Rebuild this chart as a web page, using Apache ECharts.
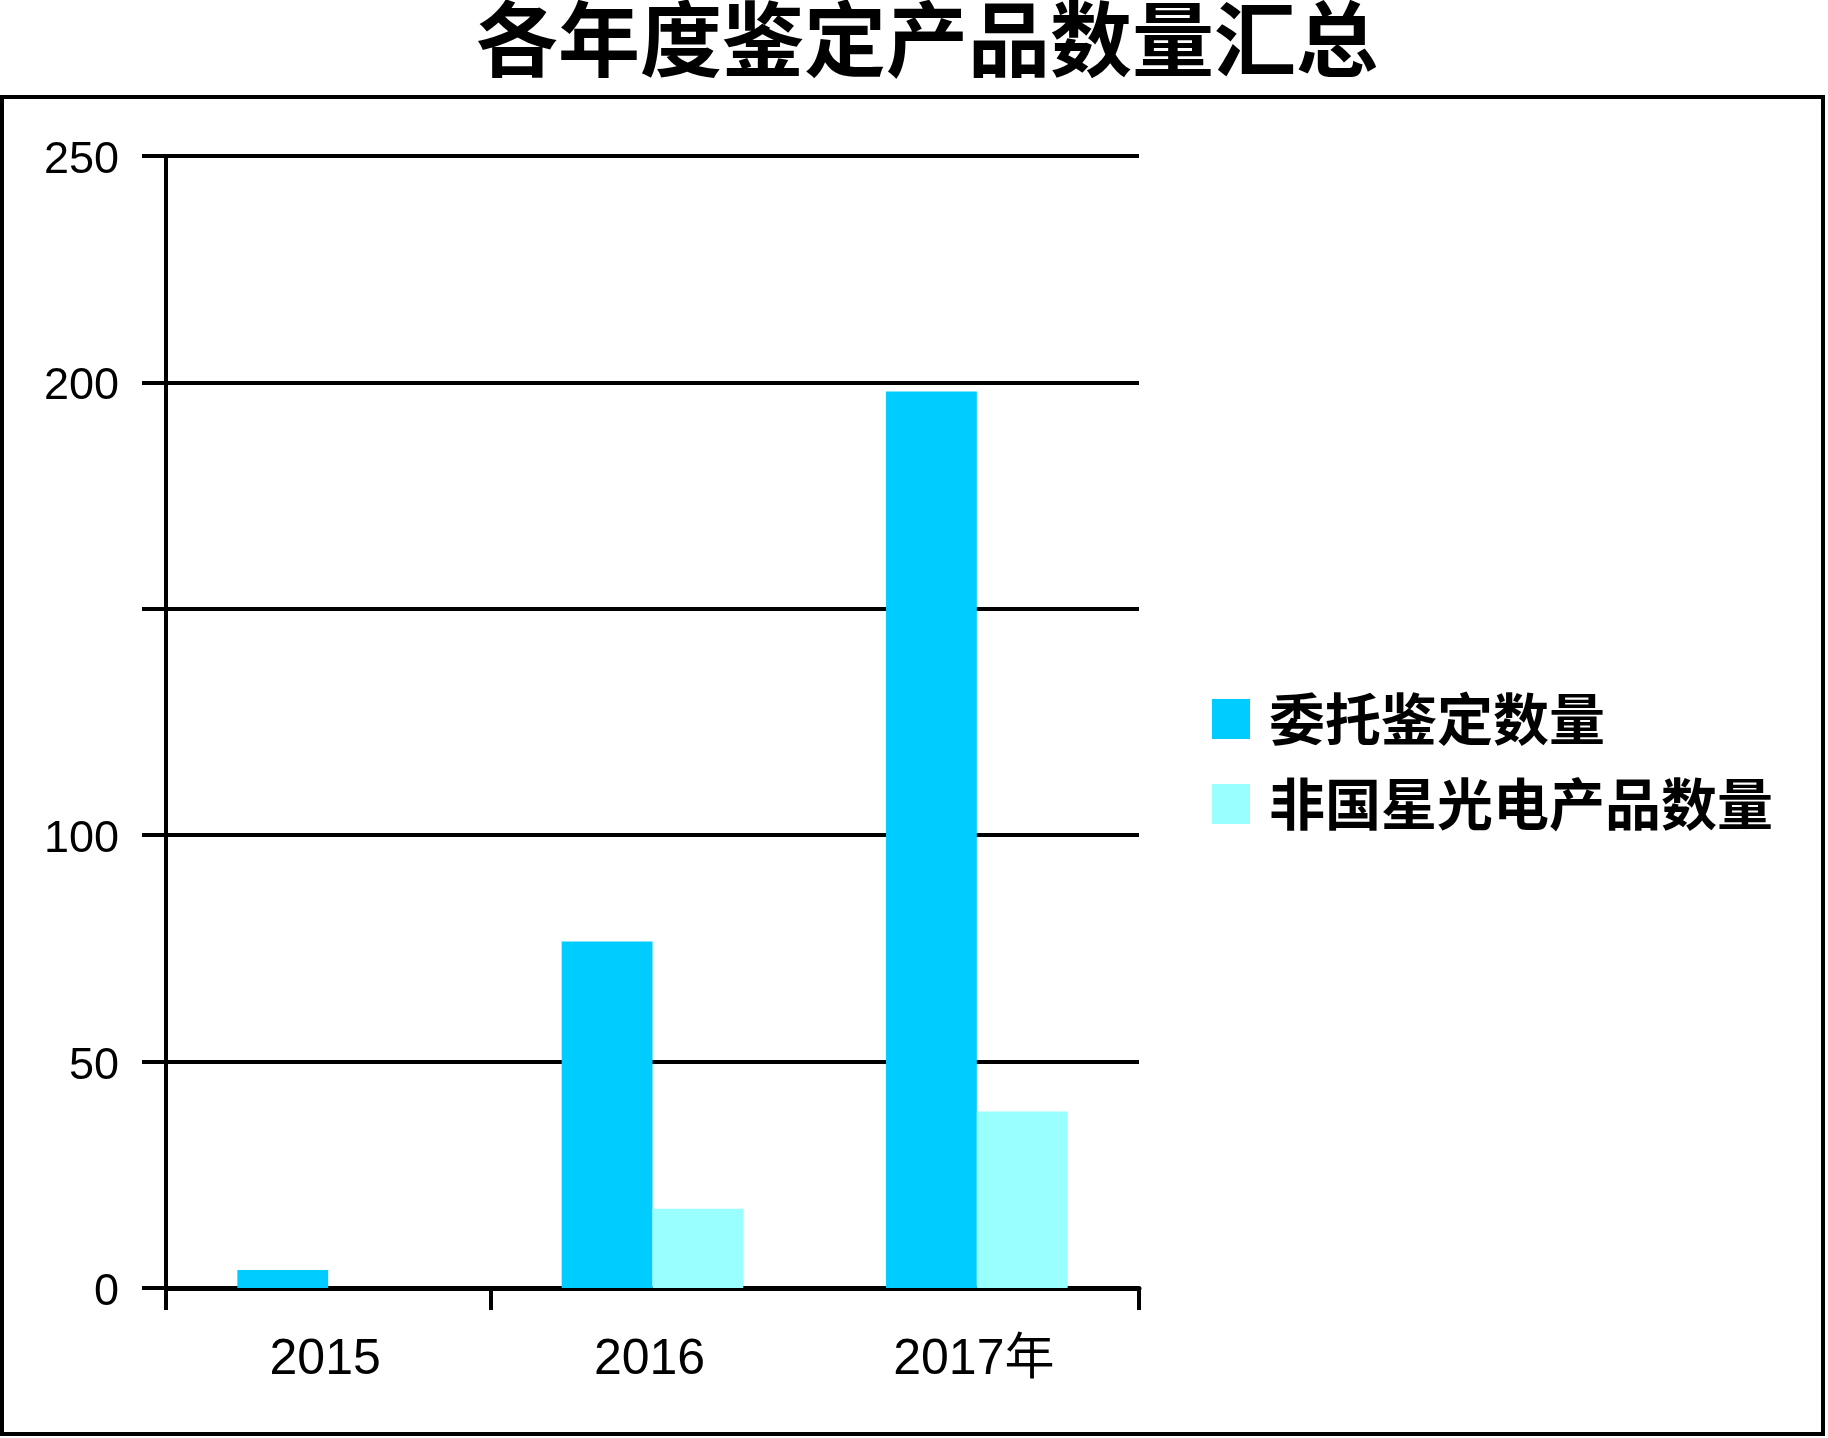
<!DOCTYPE html>
<html>
<head>
<meta charset="utf-8">
<title>各年度鉴定产品数量汇总</title>
<script src="https://cdn.jsdelivr.net/npm/echarts@6/dist/echarts.min.js"></script>
<style>
    html, body { margin: 0; padding: 0; background: #fff; }
    #chart { width: 1828px; height: 1438px; }
</style>
</head>
<body>
<div id="chart"></div>
<script>
var years = ['2015', '2016', '2017年'];
var seriesNames = ['委托鉴定数量', '非国星光电产品数量'];
var entrusted = [4, 76.5, 198];
var otherProducts = [0, 17.5, 39];
var hiddenTickLabels = [150];

var chart = echarts.init(document.getElementById('chart'));

var option = {
    backgroundColor: '#fff',
    animation: false,
    title: {
        text: '各年度鉴定产品数量汇总',
        left: 922,
        top: -7,
        textAlign: 'center',
        textStyle: {
            fontFamily: 'Noto Sans CJK SC',
            fontWeight: 'bold',
            fontSize: 82,
            color: '#000'
        }
    },
    // outer frame
    graphic: [{
        type: 'rect',
        shape: {x: 2, y: 97, width: 1821, height: 1337},
        style: {fill: null, stroke: '#000', lineWidth: 4},
        silent: true
    }],
    legend: {
        orient: 'vertical',
        left: 1207,
        top: 686,
        itemWidth: 38,
        itemHeight: 40,
        itemGap: 29,
        icon: 'rect',
        data: seriesNames,
        textStyle: {
            fontFamily: 'Noto Sans CJK SC',
            fontWeight: 'bold',
            fontSize: 56,
            color: '#000',
            padding: [0, 0, 0, 14]
        }
    },
    grid: {
        left: 166,
        right: 689,
        top: 156,
        bottom: 150
    },
    xAxis: {
        type: 'category',
        data: years,
        axisLine: {lineStyle: {color: '#000', width: 5}},
        axisTick: {
            show: true,
            length: 22,
            lineStyle: {color: '#000', width: 4},
            // the reference has no tick between 2016 and 2017
            interval: function (index) { return index !== 2; }
        },
        axisLabel: {
            margin: 47,
            fontFamily: 'Liberation Sans, Noto Sans CJK SC',
            fontSize: 50,
            color: '#000',
            formatter: function (v) { return '{t|' + v + '}'; },
            rich: {
                t: {
                    fontFamily: 'Liberation Sans, Noto Sans CJK SC',
                    fontSize: 50,
                    color: '#000',
                    padding: [0, 6, 0, 0]
                }
            }
        }
    },
    yAxis: {
        type: 'value',
        min: 0,
        max: 250,
        interval: 50,
        axisLine: {show: true, lineStyle: {color: '#000', width: 4}},
        axisTick: {show: true, length: 24, lineStyle: {color: '#000', width: 4}},
        splitLine: {lineStyle: {color: '#000', width: 4}},
        axisLabel: {
            margin: 47,
            fontFamily: 'Liberation Sans',
            fontSize: 45,
            color: '#000',
            formatter: function (v) {
                return hiddenTickLabels.indexOf(v) >= 0 ? '' : '{n|' + v + '}';
            },
            rich: {
                n: {
                    fontFamily: 'Liberation Sans',
                    fontSize: 45,
                    color: '#000',
                    padding: [9, 0, 0, 0]
                }
            }
        }
    },
    series: [{
        name: seriesNames[0],
        type: 'bar',
        data: entrusted,
        barGap: 0,
        barCategoryGap: '44%',
        itemStyle: {color: '#00CCFF'}
    }, {
        name: seriesNames[1],
        type: 'bar',
        data: otherProducts,
        barGap: 0,
        barCategoryGap: '44%',
        itemStyle: {color: '#99FFFF'}
    }]
};

chart.setOption(option);
</script>
</body>
</html>
